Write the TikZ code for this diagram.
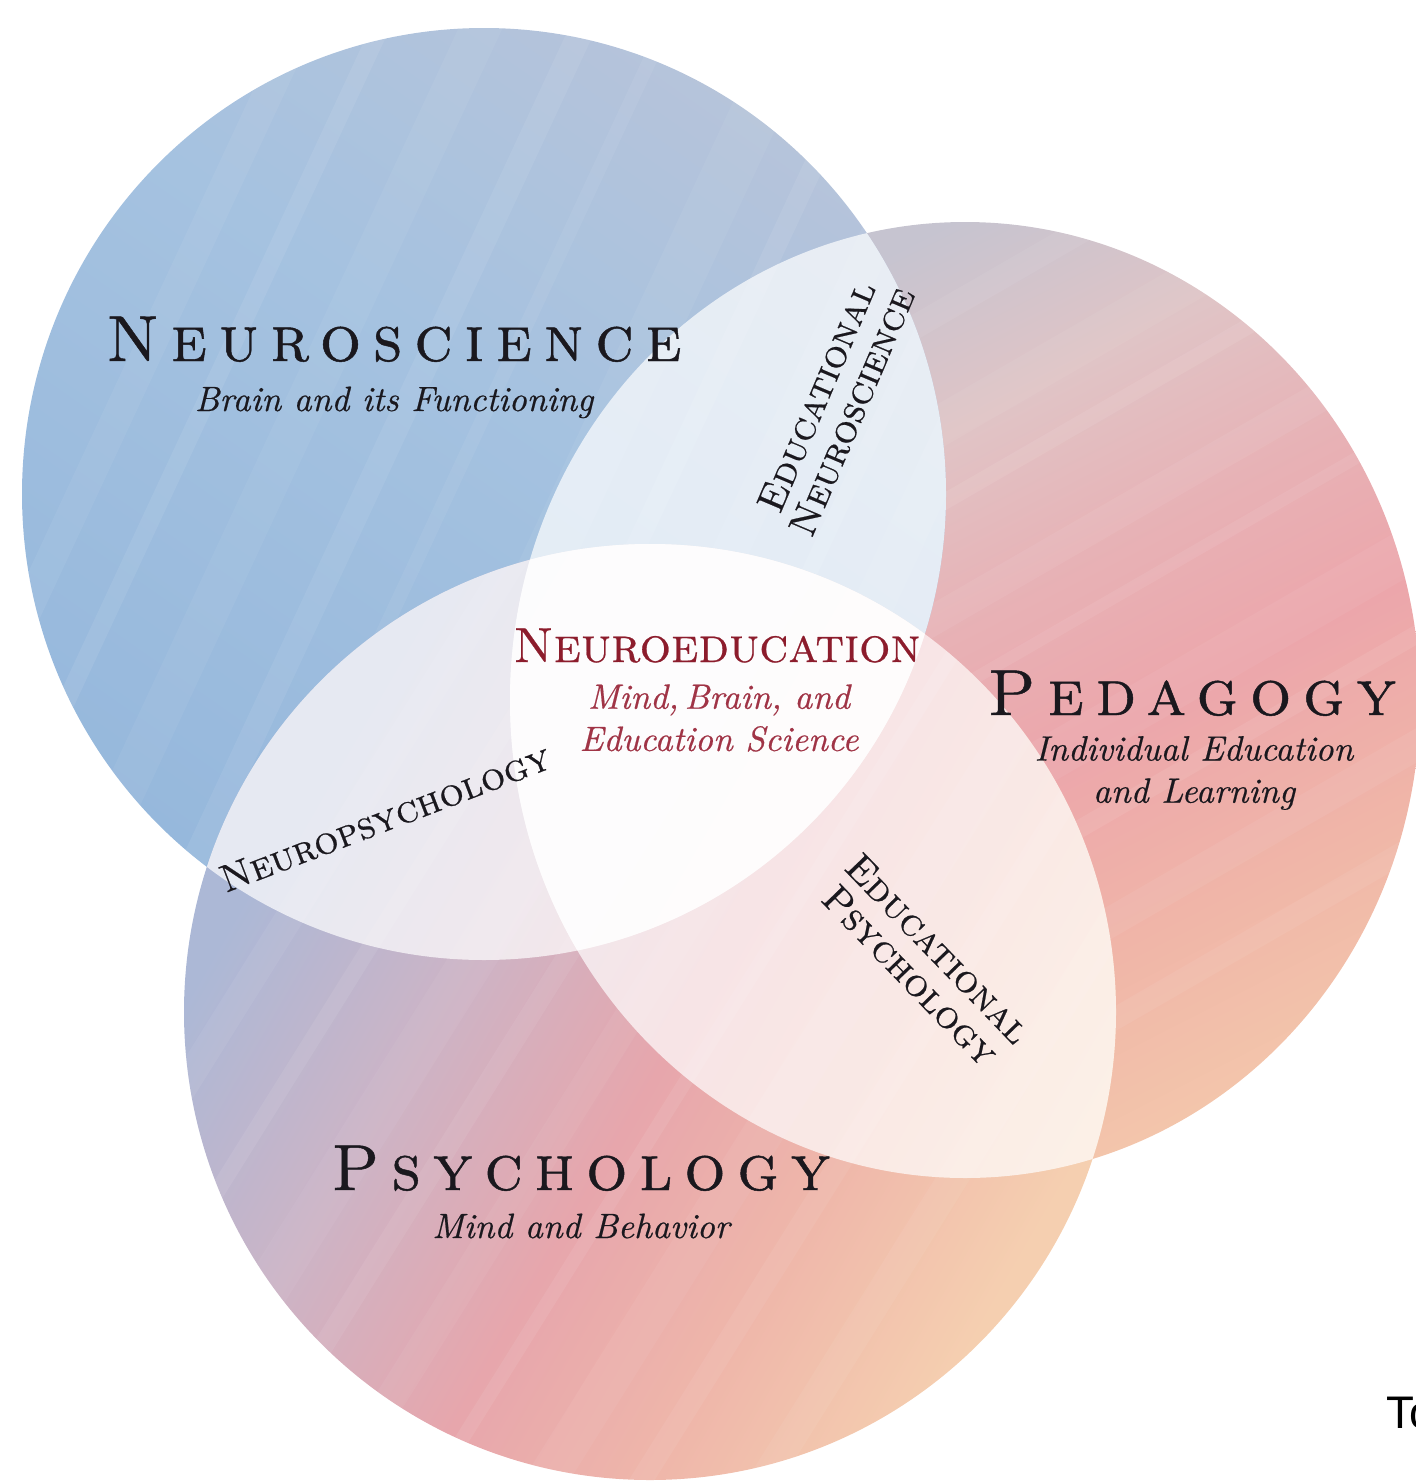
\documentclass[tikz,border=0pt]{standalone}
\usepackage{fontspec}
\newfontfamily\capsfont{lmromancaps10-regular}[Extension=.otf,FakeBold=0.5]
\newfontfamily\capswide{lmromancaps10-regular}[Extension=.otf,LetterSpace=18,FakeBold=0.7]
\newfontfamily\subitalic{lmroman10-italic}[Extension=.otf,FakeBold=0.5]
\newfontfamily\tosans{Liberation Sans}

\definecolor{neurodeep}{RGB}{150,184,220}
\definecolor{neuroblue}{RGB}{165,194,224}
\definecolor{neurolav}{RGB}{186,196,217}
\definecolor{pedgray}{RGB}{198,196,208}
\definecolor{pedbeige}{RGB}{224,196,198}
\definecolor{pedpink}{RGB}{236,166,171}
\definecolor{pedsalmon}{RGB}{240,182,168}
\definecolor{pedpeach}{RGB}{244,202,172}
\definecolor{psyblue}{RGB}{172,184,214}
\definecolor{psymauve}{RGB}{204,180,198}
\definecolor{psypink}{RGB}{231,166,172}
\definecolor{psysalmon}{RGB}{239,183,170}
\definecolor{psypeach}{RGB}{245,207,176}
\definecolor{inkdark}{RGB}{26,24,30}
\definecolor{neured}{RGB}{140,28,44}
\definecolor{neuredsub}{RGB}{160,52,70}

\pgfdeclareverticalshading{blueshade}{100bp}{color(0bp)=(neurodeep); color(25bp)=(neurodeep);
  color(55bp)=(neuroblue); color(80bp)=(neurolav); color(100bp)=(neurolav)}
\pgfdeclareverticalshading{pedshade}{100bp}{color(0bp)=(pedpeach); color(22bp)=(pedpeach);
  color(34bp)=(pedsalmon); color(45bp)=(pedpink); color(54bp)=(pedpink!60!pedbeige);
  color(63bp)=(pedbeige); color(73bp)=(pedgray); color(100bp)=(pedgray)}
\pgfdeclarehorizontalshading{psyshade}{100bp}{color(0bp)=(psyblue); color(28bp)=(psyblue);
  color(40bp)=(psymauve); color(52bp)=(psypink); color(63bp)=(psysalmon); color(74bp)=(psypeach);
  color(100bp)=(psypeach)}

\def\blueshape{(484,-494) ellipse [x radius=462, y radius=466]}
\def\pedshape{(965,-700) ellipse [x radius=455, y radius=478]}
\def\psyshape{(650,-1012) ellipse [x radius=466, y radius=468]}

\begin{document}
\begin{tikzpicture}[x=0.02cm, y=0.02cm,
  lens/.style={fill=white, fill opacity=0.7},
  streak/.style={fill=white, fill opacity=#1},
  bigtitle/.style={text=inkdark, font=\capswide\fontsize{37}{42}\selectfont, anchor=base},
  subtitle/.style={text=inkdark, font=\subitalic\fontsize{20}{24}\selectfont, align=center},
  lenstitle/.style={text=inkdark, font=\capsfont\fontsize{22}{22}\selectfont, align=center}]
  \useasboundingbox (0,0) rectangle (1416,-1484);
  \clip (0,0) rectangle (1416,-1484);

  % Kreis: Pedagogy
  \begin{scope}
    \clip \pedshape;
    \shade[shading=pedshade, shading angle=27] \pedshape;
    \foreach \s/\w/\o in {-360/24/0.06, -270/40/0.05, -190/16/0.08, -100/30/0.06, -20/12/0.07,
                          70/45/0.05, 160/18/0.08, 250/30/0.06, 340/22/0.06}
      \fill[streak=\o, rotate around={-60:(965,-700)}] (965+\s,-1300) rectangle ++(\w,1300);
  \end{scope}

  % Kreis: Neuroscience
  \begin{scope}
    \clip \blueshape;
    \shade[shading=blueshade, shading angle=-35] \blueshape;
    \foreach \s/\w/\o in {-380/30/0.06, -300/18/0.08, -220/40/0.05, -120/25/0.07, -40/14/0.06,
                          60/50/0.05, 150/20/0.08, 230/35/0.06, 320/16/0.07, 380/40/0.05}
      \fill[streak=\o, rotate around={-25:(484,-494)}] (484+\s,-1100) rectangle ++(\w,1200);
  \end{scope}

  % Kreis: Psychology
  \begin{scope}
    \clip \psyshape;
    \shade[shading=psyshade, shading angle=-30] \psyshape;
    \foreach \s/\w/\o in {-370/28/0.06, -280/16/0.08, -200/44/0.05, -110/20/0.07, -30/30/0.05,
                          60/14/0.08, 140/40/0.05, 230/22/0.06, 330/30/0.06}
      \fill[streak=\o, rotate around={-32:(650,-1012)}] (650+\s,-1600) rectangle ++(\w,1300);
  \end{scope}

  % Ueberlappungen
  \begin{scope}
    \clip \blueshape;
    \fill[lens] \pedshape;
    \fill[lens] \psyshape;
  \end{scope}
  \begin{scope}
    \clip \pedshape;
    \fill[lens] \psyshape;
  \end{scope}

  % Beschriftungen
  \node[bigtitle] (neuro) at (394,-361) {Neuroscience};
  \node[subtitle, anchor=base] (neurosub) at (394,-411) {Brain and its Functioning};

  \node[bigtitle] (peda) at (1192,-715) {Pedagogy};
  \node[subtitle] (pedasub) at (1194,-773) {Individual Education\\and Learning};

  \node[bigtitle] (psych) at (581,-1190) {Psychology};
  \node[subtitle, anchor=base] (psychsub) at (581,-1238) {Mind and Behavior};

  \node[text=neured, font=\capsfont\fontsize{28}{30}\selectfont, anchor=base] (neuroedu) at (717,-662) {Neuroeducation};
  \node[subtitle, text=neuredsub] (neuroedusub) at (719,-718) {Mind,\,Brain, and\\Education Science};

  \node[lenstitle, rotate=67] (eduneuro) at (834,-404) {Educational\\Neuroscience};
  \node[lenstitle, rotate=21] (neuropsy) at (385,-818) {Neuropsychology};
  \node[lenstitle, rotate=-46] (edupsy) at (924,-962) {Educational\\Psychology};

  \node[font=\tosans\fontsize{26}{30}\selectfont, anchor=base west] (tofrag) at (1380,-1428) {To};
\end{tikzpicture}
\end{document}
